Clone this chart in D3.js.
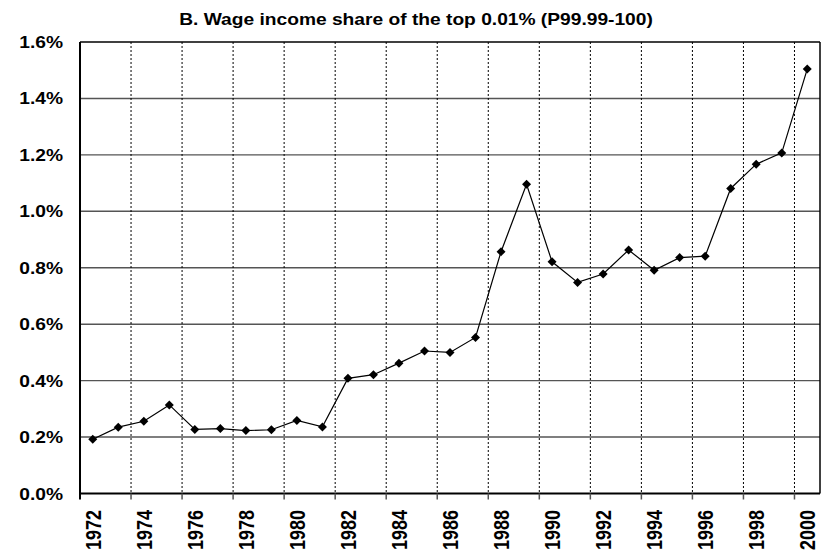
<!DOCTYPE html>
<html>
<head>
<meta charset="utf-8">
<script src="https://cdn.jsdelivr.net/npm/d3@7"></script>
<style>
  body { margin: 0; background: #fff; }
  text { font-family: Arial, "Liberation Sans", sans-serif; font-weight: bold; fill: #000; }
</style>
</head>
<body>
<div id="chart"></div>
<script>
// chart data
const years = [1972, 1973, 1974, 1975, 1976, 1977, 1978, 1979, 1980, 1981,
  1982, 1983, 1984, 1985, 1986, 1987, 1988, 1989, 1990, 1991,
  1992, 1993, 1994, 1995, 1996, 1997, 1998, 1999, 2000];
// wage income share of top 0.01%, in percent
const shares = [0.192, 0.235, 0.256, 0.314, 0.227, 0.230, 0.223, 0.226, 0.259, 0.236,
  0.408, 0.421, 0.462, 0.505, 0.500, 0.553, 0.857, 1.096, 0.821, 0.748,
  0.778, 0.863, 0.791, 0.836, 0.841, 1.081, 1.167, 1.207, 1.504];
const yTicks = [0, 0.2, 0.4, 0.6, 0.8, 1.0, 1.2, 1.4, 1.6];
const yearLabels = [1972, 1974, 1976, 1978, 1980, 1982, 1984, 1986, 1988, 1990,
  1992, 1994, 1996, 1998, 2000];
const title = "B. Wage income share of the top 0.01% (P99.99-100)";

const width = 827;
const height = 560;
const plotLeft = 80, plotRight = 820, plotTop = 42, plotBottom = 493.5;
const stretch = 1.2; // text in the original is a bit wide

const svg = d3.select("#chart")
  .append("svg")
  .attr("width", width)
  .attr("height", height);

const x = d3.scaleBand().domain(years).range([plotLeft, plotRight]).padding(0);
const y = d3.scaleLinear().domain([0, 1.6]).range([plotBottom, plotTop]);

// horizontal gridlines
svg.selectAll("line.hgrid")
  .data(yTicks.filter(d => d > 0 && d < 1.6))
  .enter()
  .append("line")
  .attr("x1", plotLeft).attr("x2", plotRight)
  .attr("y1", d => y(d)).attr("y2", d => y(d))
  .attr("stroke", "#555")
  .attr("stroke-width", 1.4);

// vertical dotted gridlines, every 2nd category boundary
const boundaries = years.filter((d, i) => i % 2 === 0).map(d => x(d));
svg.selectAll("line.vgrid")
  .data(boundaries.slice(1))
  .enter()
  .append("line")
  .attr("x1", d => d).attr("x2", d => d)
  .attr("y1", plotTop).attr("y2", plotBottom)
  .attr("stroke", "#000")
  .attr("stroke-width", 1)
  .attr("stroke-dasharray", "2,2");

// plot border: top and right
svg.append("line")
  .attr("x1", plotLeft).attr("x2", plotRight).attr("y1", plotTop).attr("y2", plotTop)
  .attr("stroke", "#000").attr("stroke-width", 1.5);
svg.append("line")
  .attr("x1", plotRight).attr("x2", plotRight).attr("y1", plotTop).attr("y2", plotBottom)
  .attr("stroke", "#000").attr("stroke-width", 1.5);

// axes
svg.append("line")
  .attr("x1", plotLeft).attr("x2", plotLeft).attr("y1", plotTop).attr("y2", plotBottom + 6)
  .attr("stroke", "#000").attr("stroke-width", 2);
svg.append("line")
  .attr("x1", plotLeft).attr("x2", plotRight).attr("y1", plotBottom).attr("y2", plotBottom)
  .attr("stroke", "#000").attr("stroke-width", 2);

// x tick marks
svg.selectAll("line.xtick")
  .data(boundaries.slice(1))
  .enter()
  .append("line")
  .attr("x1", d => d).attr("x2", d => d)
  .attr("y1", plotBottom).attr("y2", plotBottom + 6)
  .attr("stroke", "#555")
  .attr("stroke-width", 1.5);

// y labels
svg.selectAll("text.ylab")
  .data(yTicks)
  .enter()
  .append("text")
  .attr("transform", d => `translate(63,${y(d) + 6}) scale(${stretch},1)`)
  .attr("text-anchor", "end")
  .style("font-size", "16px")
  .text(d => d3.format(".1f")(d) + "%");

// x labels, rotated
svg.selectAll("text.xlab")
  .data(yearLabels)
  .enter()
  .append("text")
  .attr("transform", d => `translate(${x(d) + x.bandwidth() / 2},510) rotate(-90) scale(1,${stretch})`)
  .attr("text-anchor", "end")
  .attr("dy", "0.36em")
  .style("font-size", "18px")
  .text(d => d);

// title
svg.append("text")
  .attr("transform", `translate(416,25) scale(${stretch},1)`)
  .attr("text-anchor", "middle")
  .style("font-size", "16px")
  .text(title);

// series line
const pts = years.map((d, i) => [x(d) + x.bandwidth() / 2, y(shares[i])]);
svg.append("path")
  .attr("d", d3.line()(pts))
  .attr("fill", "none")
  .attr("stroke", "#000")
  .attr("stroke-width", 1.2);

// diamond markers
svg.selectAll("path.marker")
  .data(pts)
  .enter()
  .append("path")
  .attr("transform", d => `translate(${d[0]},${d[1]})`)
  .attr("d", "M0,-4.5L4.5,0L0,4.5L-4.5,0Z")
  .attr("fill", "#000");
</script>
</body>
</html>
